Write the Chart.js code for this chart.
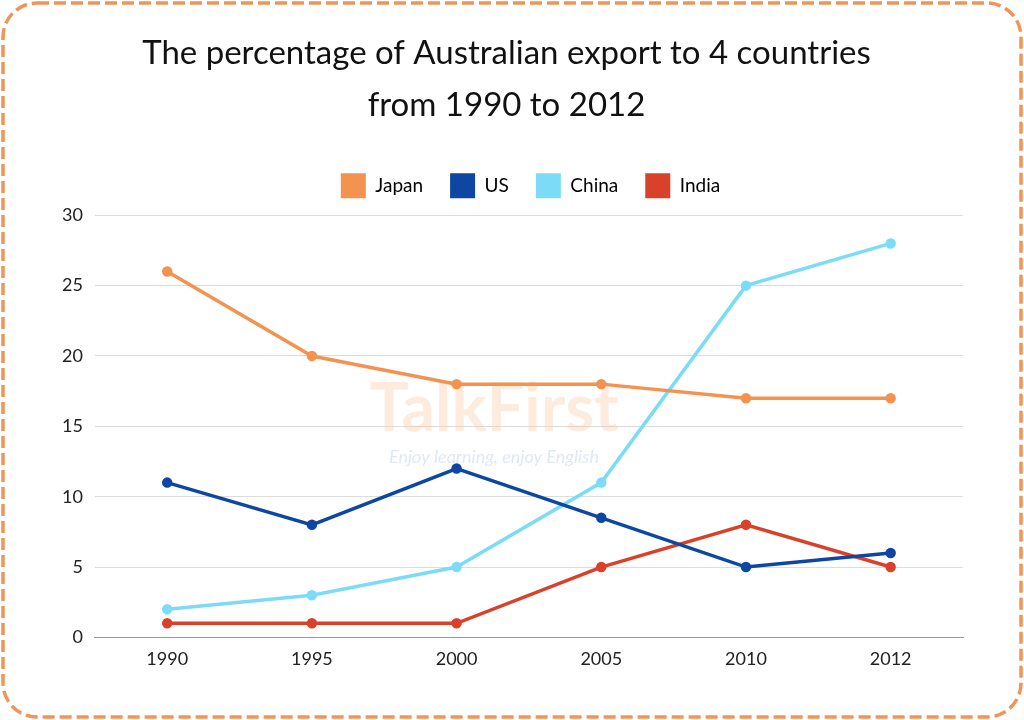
<!DOCTYPE html>
<html>
<head>
<meta charset="utf-8">
<script src="https://cdn.jsdelivr.net/npm/chart.js@4"></script>
<style>
  html, body { margin: 0; padding: 0; background: #fff; }
  #frame { position: absolute; left: 0; top: 0; }
  #wrap { position: absolute; left: 0; top: 0; width: 1024px; height: 720px; }
</style>
</head>
<body>
<svg id="frame" width="1024" height="720">
  <rect x="3" y="3" width="1018" height="714" rx="34" ry="34"
        fill="none" stroke="#f0945a" stroke-width="3.5" stroke-dasharray="12 5"/>
</svg>
<div id="wrap"><canvas id="chart"></canvas></div>
<script>
var years = ['1990', '1995', '2000', '2005', '2010', '2012'];
var japan = [26, 20, 18, 18, 17, 17];
var us    = [11, 8, 12, 8.5, 5, 6];
var china = [2, 3, 5, 11, 25, 28];
var india = [1, 1, 1, 5, 8, 5];

var font = "'Lato', 'Noto Sans', sans-serif";

function series(label, data, color) {
    return {
        label: label,
        data: data,
        borderColor: color,
        backgroundColor: color,
        borderWidth: 3.5,
        pointRadius: 3.5,
        pointHoverRadius: 3.5,
        tension: 0
    };
}

// faint logo text behind the lines
var watermark = {
    id: 'watermark',
    beforeDatasetsDraw: function(chart) {
        var ctx = chart.ctx;
        ctx.save();
        ctx.textAlign = 'center';
        ctx.textBaseline = 'middle';
        ctx.fillStyle = 'rgba(250, 200, 160, 0.35)';
        ctx.font = "bold 66px " + font;
        ctx.fillText('TalkFirst', 494, 410);
        ctx.fillStyle = 'rgba(170, 190, 220, 0.35)';
        ctx.font = "italic 18px " + font;
        ctx.fillText('Enjoy learning, enjoy English', 494, 457);
        ctx.restore();
    }
};

// more room under the legend, and legend centred over the plot
var legendTweak = {
    id: 'legendTweak',
    beforeInit: function(chart) {
        var lg = chart.legend;
        var fit = lg.fit;
        lg.fit = function() {
            fit.call(this);
            this.height += 7;
        };
        var draw = lg.draw;
        lg.draw = function() {
            var ctx = this.ctx;
            ctx.save();
            ctx.translate(24, 0);
            draw.call(this);
            ctx.restore();
        };
    }
};

new Chart(document.getElementById('chart'), {
    type: 'line',
    data: {
        labels: years,
        datasets: [
            series('Japan', japan, '#f4924f'),
            series('US', us, '#0d47a1'),
            series('China', china, '#7cdcf8'),
            series('India', india, '#d9412a')
        ]
    },
    options: {
        responsive: true,
        maintainAspectRatio: false,
        animation: false,
        layout: { padding: { left: 50, right: 61, top: 24, bottom: 39 } },
        plugins: {
            title: {
                display: true,
                text: ['The percentage of Australian export to 4 countries', 'from 1990 to 2012'],
                color: '#111',
                font: { family: font, size: 33, weight: 'normal', lineHeight: 1.58 },
                padding: { top: 3, bottom: 15 }
            },
            legend: {
                labels: {
                    color: '#222',
                    font: { family: font, size: 19 },
                    boxWidth: 25,
                    boxHeight: 25,
                    padding: 27,
                    generateLabels: function(chart) {
                        return chart.data.datasets.map(function(d, i) {
                            return {
                                text: d.label,
                                fillStyle: d.borderColor,
                                strokeStyle: d.borderColor,
                                lineWidth: 0,
                                datasetIndex: i
                            };
                        });
                    }
                }
            },
            tooltip: { enabled: false }
        },
        scales: {
            x: {
                offset: true,
                grid: { display: false, drawTicks: false },
                border: { display: true, color: '#999', width: 1 },
                ticks: { color: '#222', font: { family: font, size: 18 }, padding: 11 }
            },
            y: {
                min: 0, max: 30,
                ticks: { stepSize: 5, color: '#222', font: { family: font, size: 18 }, padding: 12 },
                grid: { color: '#dcdcdc', drawTicks: false },
                border: { display: false }
            }
        }
    },
    plugins: [watermark, legendTweak]
});
</script>
</body>
</html>
